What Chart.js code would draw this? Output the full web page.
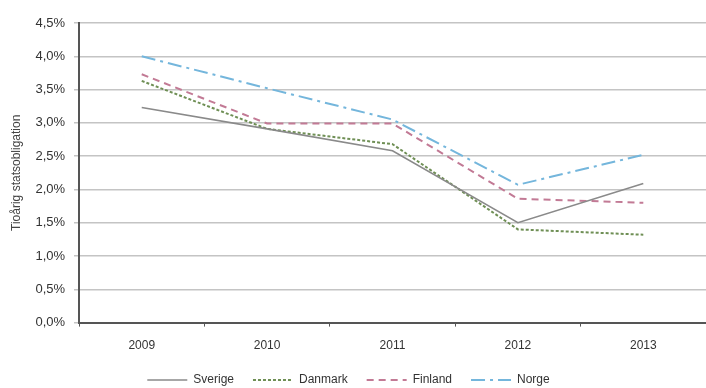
<!DOCTYPE html>
<html lang="sv">
<head>
  <meta charset="UTF-8">
  <title>Tioårig statsobligation</title>
  <script src="https://cdn.jsdelivr.net/npm/chart.js"></script>
  <style>
    html, body { margin: 0; padding: 0; background: #fff; }
    .chart-box { width: 706px; height: 388px; }
  </style>
</head>
<body>
  <div class="chart-box">
    <canvas id="rateChart"></canvas>
  </div>

  <script>
    const years = ["2009", "2010", "2011", "2012", "2013"];
    const sverige = [3.23, 2.91, 2.58, 1.50, 2.09];
    const danmark = [3.63, 2.91, 2.68, 1.40, 1.32];
    const finland = [3.73, 2.99, 2.99, 1.86, 1.80];
    const norge = [4.00, 3.52, 3.05, 2.07, 2.52];
    const yTicks = [0, 0.5, 1, 1.5, 2, 2.5, 3, 3.5, 4, 4.5];

    const fmt = v => v.toFixed(1).replace(".", ",") + "%";

    const ctx = document.getElementById("rateChart").getContext("2d");
    new Chart(ctx, {
      type: "line",
      data: {
        labels: years,
        datasets: [
          { label: "Sverige", data: sverige, borderColor: "#8a8a8a", borderWidth: 1.6, borderDash: [] },
          { label: "Danmark", data: danmark, borderColor: "#6f8f55", borderWidth: 2, borderDash: [3, 2] },
          { label: "Finland", data: finland, borderColor: "#c27a95", borderWidth: 2, borderDash: [7, 5] },
          { label: "Norge", data: norge, borderColor: "#74b6dc", borderWidth: 2, borderDash: [14, 5, 3, 5] }
        ]
      },
      options: {
        responsive: true,
        maintainAspectRatio: false,
        animation: false,
        layout: { padding: { left: 1, right: 0, top: 23, bottom: -8 } },
        elements: {
          point: { radius: 0 },
          line: { tension: 0 }
        },
        plugins: {
          legend: {
            position: "bottom",
            labels: {
              usePointStyle: true,
              pointStyle: "line",
              pointStyleWidth: 40,
              boxHeight: 8,
              padding: 9,
              color: "#333",
              font: { family: "Liberation Sans", size: 12 },
              // keep each line's dash pattern in the legend sample, a bit more room between items
              generateLabels: chart => {
                const items = Chart.defaults.plugins.legend.labels.generateLabels(chart);
                items.forEach(it => {
                  const ds = chart.data.datasets[it.datasetIndex];
                  it.lineDash = ds.borderDash;
                  it.lineWidth = ds.borderWidth;
                  it.text = it.text + "   ";
                });
                return items;
              }
            }
          },
          tooltip: { enabled: false }
        },
        scales: {
          x: {
            offset: true,
            grid: {
              offset: true,
              drawOnChartArea: false,
              drawTicks: true,
              tickLength: 4,
              color: "#555"
            },
            border: { color: "#555", width: 2 },
            ticks: { color: "#333", padding: 12, font: { family: "Liberation Sans", size: 12 } }
          },
          y: {
            min: 0,
            max: 4.5,
            afterBuildTicks: axis => { axis.ticks = yTicks.map(v => ({ value: v })); },
            grid: { color: "#c4c4c4", lineWidth: 1.5, tickLength: 5 },
            border: { color: "#555", width: 2 },
            ticks: {
              color: "#333",
              padding: 9,
              font: { family: "Liberation Sans", size: 13 },
              callback: v => fmt(v)
            },
            title: {
              display: true,
              text: "Tioårig statsobligation",
              color: "#444",
              padding: { top: 8, bottom: 3 },
              font: { family: "Liberation Sans", size: 12 }
            }
          }
        }
      }
    });
  </script>
</body>
</html>
